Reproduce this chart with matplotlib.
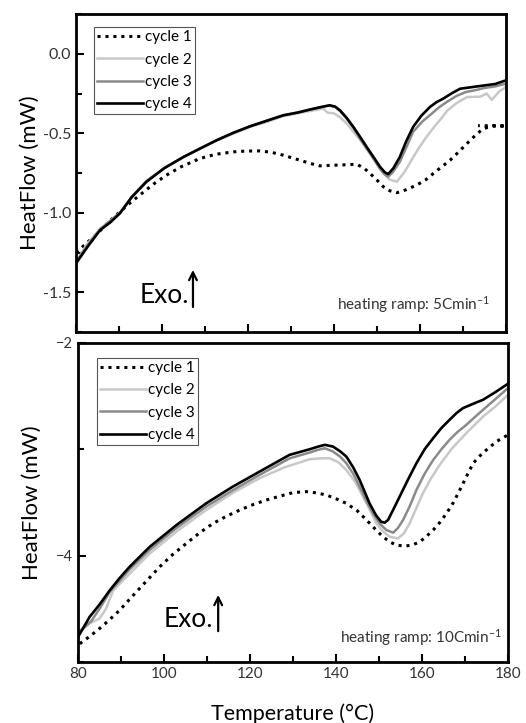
import matplotlib
matplotlib.use("Agg")
import matplotlib.pyplot as plt
from matplotlib.ticker import MultipleLocator, FormatStrFormatter

plt.rcParams['font.family'] = ['Lato', 'DejaVu Sans']
plt.rcParams['mathtext.fontset'] = 'custom'
plt.rcParams['mathtext.rm'] = 'Lato'
plt.rcParams['mathtext.default'] = 'regular'

# ---- top panel: 5 C/min ----
t5_c1 = [80, 82.5, 85, 87.5, 90, 92.5, 95, 98, 101, 104.5, 108.8, 112.5, 116.6, 119.5,
         122.8, 125.5, 128.2, 132, 134.5, 136.7, 139.8, 143, 145.3, 147, 148.4, 150, 151.5,
         153, 154.6, 156.8, 159.2, 161.2, 163.1, 165, 167, 169, 170.9, 172.8, 174.7, 177,
         180, 173.5]
hf5_c1 = [-1.25, -1.19, -1.13, -1.06, -1.0, -0.94, -0.885, -0.82, -0.764, -0.71, -0.659,
          -0.632, -0.617, -0.612, -0.611, -0.62, -0.638, -0.669, -0.69, -0.705, -0.701,
          -0.698, -0.695, -0.72, -0.753, -0.795, -0.837, -0.862, -0.874, -0.855, -0.826,
          -0.795, -0.753, -0.712, -0.669, -0.617, -0.565, -0.515, -0.471, -0.454, -0.454,
          -0.452]

t5_c2 = [80, 82.5, 85.6, 88, 90.2, 93, 96.4, 100.5, 105, 109, 112.7, 116.5, 120.5, 124.5,
         128.2, 131.5, 134.4, 136, 137.5, 138.5, 140, 141.4, 143, 144.5, 146, 147.6, 149.2,
         150.7, 152.8, 154.6, 156.5, 158, 159.4, 161.3, 163.3, 165, 166.4, 168.5, 171, 174,
         175.5, 176.7, 178.3, 180]
hf5_c2 = [-1.31, -1.2, -1.1, -1.05, -1.0, -0.9, -0.80, -0.72, -0.649, -0.595, -0.546,
          -0.503, -0.46, -0.428, -0.392, -0.375, -0.36, -0.352, -0.345, -0.37, -0.375,
          -0.40, -0.44, -0.49, -0.54, -0.60, -0.66, -0.72, -0.79, -0.805, -0.74, -0.67,
          -0.607, -0.53, -0.46, -0.405, -0.356, -0.31, -0.272, -0.27, -0.25, -0.29, -0.24,
          -0.209]

t5_c3 = [80, 82.8, 85.6, 88, 90.2, 93, 96.4, 100.5, 105, 109, 112.7, 116.5, 120.5, 124.5,
         128.2, 131.5, 134.4, 137, 139, 140.3, 141.4, 143, 144.5, 146, 147.6, 149.2, 150.7,
         151.8, 152.6, 153.8, 155.3, 156.8, 158.4, 160.6, 162.8, 164.5, 166.4, 168.5,
         170.6, 173, 175, 177.5, 180]
hf5_c3 = [-1.31, -1.2, -1.105, -1.05, -1.0, -0.9, -0.80, -0.72, -0.649, -0.594, -0.544,
          -0.498, -0.456, -0.42, -0.387, -0.37, -0.351, -0.335, -0.325, -0.335, -0.36,
          -0.41, -0.465, -0.53, -0.595, -0.66, -0.725, -0.76, -0.774, -0.74, -0.68, -0.59,
          -0.49, -0.425, -0.375, -0.335, -0.30, -0.265, -0.241, -0.228, -0.215, -0.205,
          -0.188]

t5_c4 = [80, 82.8, 85.6, 88, 90.2, 93, 96.4, 100.5, 105, 109, 112.7, 116.5, 120.5, 124.5,
         128.2, 131.5, 134.4, 137, 139, 140.3, 141.4, 143, 144.5, 146, 147.6, 149.2, 150.7,
         151.8, 152.6, 153.8, 155.3, 156.8, 158.4, 160.3, 162.3, 163.8, 165.4, 167.3, 169.3,
         172, 174.7, 177.5, 180]
hf5_c4 = [-1.318, -1.21, -1.109, -1.06, -1.004, -0.9, -0.805, -0.72, -0.649, -0.594,
          -0.544, -0.498, -0.456, -0.42, -0.387, -0.37, -0.351, -0.335, -0.324, -0.333,
          -0.356, -0.405, -0.46, -0.52, -0.586, -0.65, -0.711, -0.745, -0.757, -0.72,
          -0.649, -0.55, -0.46, -0.39, -0.335, -0.305, -0.282, -0.25, -0.22, -0.21, -0.2,
          -0.19, -0.167]

# ---- bottom panel: 10 C/min ----
t10_c1 = [80.4, 82.7, 85, 87.4, 89.7, 92, 94.3, 96.7, 99, 102, 105.2, 108.3, 111.4, 114.5,
          117.6, 120.7, 123.8, 127, 130, 133.1, 135.5, 137.8, 140, 142.4, 145, 147.1, 149,
          150.9, 152.5, 154, 156, 157.8, 159.5, 161, 162.6, 164.2, 165.7, 167.3, 168.8,
          170.4, 171.9, 173.5, 175, 177.3, 180]
hf10_c1 = [-4.828, -4.76, -4.686, -4.6, -4.513, -4.41, -4.309, -4.205, -4.105, -3.99,
           -3.885, -3.785, -3.697, -3.63, -3.571, -3.52, -3.477, -3.44, -3.407, -3.398,
           -3.41, -3.43, -3.465, -3.508, -3.58, -3.665, -3.745, -3.822, -3.87, -3.901,
           -3.91, -3.9, -3.869, -3.82, -3.759, -3.685, -3.602, -3.5, -3.382, -3.25, -3.131,
           -3.06, -3.005, -2.927, -2.864]

t10_c2 = [80, 82.5, 85, 86.5, 88.2, 92.5, 96.7, 103, 109.8, 116, 122.2, 128, 133.9, 136.5,
          138.5, 140.5, 142.4, 144.5, 146.3, 148, 149.4, 151, 152.5, 154.4, 155.8, 157.1,
          158.6, 160.2, 162, 164.1, 167, 170.3, 174.2, 177, 180]
hf10_c2 = [-4.718, -4.64, -4.592, -4.5, -4.325, -4.15, -3.979, -3.77, -3.571, -3.41,
           -3.272, -3.17, -3.093, -3.085, -3.084, -3.12, -3.194, -3.31, -3.445, -3.58,
           -3.697, -3.775, -3.822, -3.838, -3.79, -3.697, -3.56, -3.414, -3.28, -3.147,
           -2.99, -2.848, -2.691, -2.6, -2.487]

t10_c3 = [80, 83, 85, 87.4, 92, 96.7, 102.9, 109.8, 116, 122.2, 129.2, 133.9, 135.8, 137.4,
          139.3, 141, 142.4, 144, 145.5, 147, 148.6, 150.2, 151.7, 153.3, 154.4, 155.6, 157.2,
          158.7, 160.6, 162.6, 164.5, 166.4, 168.3, 170.3, 172.2, 174.2, 177, 180]
hf10_c3 = [-4.73, -4.62, -4.5, -4.34, -4.13, -3.945, -3.74, -3.539, -3.385, -3.241, -3.085,
           -3.03, -3.005, -2.99, -3.021, -3.07, -3.131, -3.23, -3.351, -3.48, -3.602, -3.7,
           -3.759, -3.784, -3.74, -3.665, -3.53, -3.382, -3.23, -3.1, -3.0, -2.911, -2.835,
           -2.77, -2.7, -2.628, -2.53, -2.424]

t10_c4 = [80, 82.7, 85, 87.4, 89.7, 92, 96.7, 102.9, 109.8, 116, 122.2, 129.2, 133.9,
          135.8, 137.4, 139.3, 141, 142.4, 144, 145.5, 147.8, 149.3, 150.5, 151.3, 152.1,
          153.4, 154.8, 156.8, 158.7, 160.6, 162.6, 164.5, 166.4, 168, 169.5, 172, 174.2,
          177.3, 180]
hf10_c4 = [-4.765, -4.576, -4.46, -4.325, -4.21, -4.105, -3.916, -3.712, -3.508, -3.351,
           -3.21, -3.052, -2.999, -2.975, -2.958, -2.974, -3.02, -3.068, -3.17, -3.288,
           -3.508, -3.62, -3.681, -3.69, -3.665, -3.56, -3.445, -3.28, -3.131, -3.0, -2.895,
           -2.8, -2.723, -2.66, -2.613, -2.57, -2.534, -2.456, -2.383]

labels = ['cycle 1', 'cycle 2', 'cycle 3', 'cycle 4']
styles = [dict(color='black', lw=2.2, ls=(0, (1, 1.6))),
          dict(color='#c8c8c8', lw=1.8, ls='-'),
          dict(color='#8a8a8a', lw=1.8, ls='-'),
          dict(color='black', lw=1.9, ls='-')]

fig = plt.figure(figsize=(5.26, 7.23), dpi=100)
ax1 = fig.add_axes([0.1445, 0.5408, 0.8175, 0.4398])
ax2 = fig.add_axes([0.1483, 0.0844, 0.8175, 0.4412])

top_data = [(t5_c1, hf5_c1), (t5_c2, hf5_c2), (t5_c3, hf5_c3), (t5_c4, hf5_c4)]
bot_data = [(t10_c1, hf10_c1), (t10_c2, hf10_c2), (t10_c3, hf10_c3), (t10_c4, hf10_c4)]

for (x, y), lab, st in zip(top_data, labels, styles):
    ax1.plot(x, y, label=lab, **st)
for (x, y), lab, st in zip(bot_data, labels, styles):
    ax2.plot(x, y, label=lab, **st)

ax1.set_ylim(-1.75, 0.25)
ax1.yaxis.set_major_locator(MultipleLocator(0.5))
ax1.yaxis.set_minor_locator(MultipleLocator(0.25))
ax1.yaxis.set_major_formatter(FormatStrFormatter('%.1f'))
ax1.tick_params(axis='x', labelbottom=False)

ax2.set_ylim(-5, -2)
ax2.yaxis.set_major_locator(MultipleLocator(2))
ax2.yaxis.set_minor_locator(MultipleLocator(1))
ax2.set_xlabel('Temperature (°C)', fontsize=15.5, labelpad=16)

for ax in (ax1, ax2):
    ax.set_xlim(80, 180)
    ax.xaxis.set_major_locator(MultipleLocator(20))
    ax.xaxis.set_minor_locator(MultipleLocator(10))
    for sp in ax.spines.values():
        sp.set_linewidth(2)
    ax.tick_params(which='both', direction='in', width=1.5, labelsize=11,
                   labelcolor='#333333', top=False, right=False)
    ax.tick_params(which='major', length=6)
    ax.tick_params(which='minor', length=4)
    ax.set_ylabel('HeatFlow (mW)', fontsize=16)
    ax.yaxis.set_label_coords(-0.084, 0.5)
    leg = ax.legend(loc='upper left', fontsize=11, handlelength=3.0, handletextpad=0.15,
                    borderpad=0.2, labelspacing=0.55, borderaxespad=0, fancybox=False,
                    framealpha=1)
    leg.get_frame().set_edgecolor('#555555')
    leg.get_frame().set_linewidth(0.8)

ax1.tick_params(axis='y', labelsize=11.5)
ax2.tick_params(axis='y', labelsize=10.5)

ax1.get_legend().set_bbox_to_anchor((0.042, 0.959), transform=ax1.transAxes)
ax2.get_legend().set_bbox_to_anchor((0.044, 0.953), transform=ax2.transAxes)

# Exo. markers
ax1.text(0.149, 0.116, 'Exo.', transform=ax1.transAxes, fontsize=19, va='center', ha='left')
ax1.annotate('', xy=(0.272, 0.204), xytext=(0.272, 0.07), xycoords='axes fraction',
             arrowprops=dict(arrowstyle='->', lw=1.6, color='black', mutation_scale=14))
ax2.text(0.198, 0.132, 'Exo.', transform=ax2.transAxes, fontsize=19, va='center', ha='left')
ax2.annotate('', xy=(0.326, 0.219), xytext=(0.326, 0.088), xycoords='axes fraction',
             arrowprops=dict(arrowstyle='->', lw=1.6, color='black', mutation_scale=14))

ax1.text(0.963, 0.055, 'heating ramp: 5Cmin$^{-1}$', transform=ax1.transAxes,
         fontsize=11, ha='right', va='bottom', color='#333333')
ax2.text(0.986, 0.045, 'heating ramp: 10Cmin$^{-1}$', transform=ax2.transAxes,
         fontsize=11, ha='right', va='bottom', color='#333333')

fig.savefig('out.png', dpi=100)
